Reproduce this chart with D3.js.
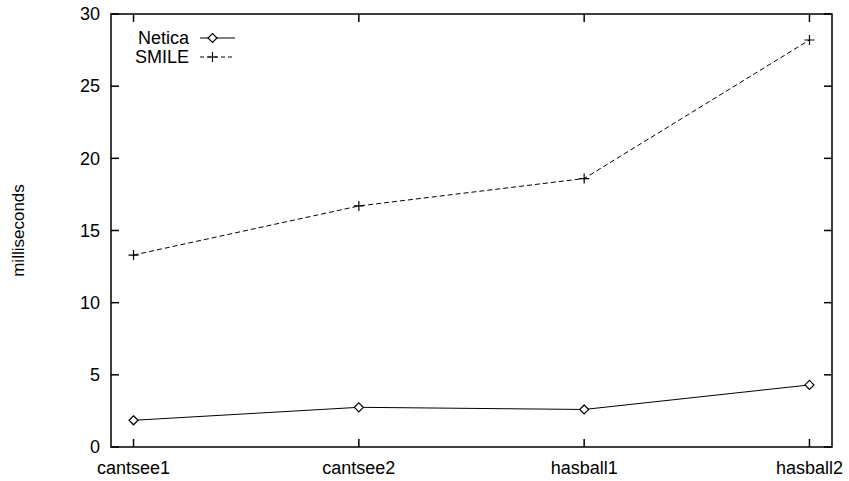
<!DOCTYPE html>
<html><head><meta charset="utf-8">
<script src="https://cdn.jsdelivr.net/npm/d3@7"></script>
<style>body{margin:0;background:#fff}svg{display:block}text{font-family:"Liberation Sans",Arial,sans-serif;font-size:18px;fill:#000}</style>
</head><body>
<svg id="c" width="849" height="481"></svg>
<script>
const categories = ["cantsee1","cantsee2","hasball1","hasball2"];
const netica = [1.85, 2.75, 2.6, 4.3];
const smile = [13.3, 16.7, 18.6, 28.2];
const yTicks = [0,5,10,15,20,25,30];
const yLabel = "milliseconds";

const svg = d3.select("#c");
const L=111, R=832, T=14, B=447;
const x = d3.scaleLinear().domain([-0.1, categories.length-1+0.1]).range([L,R]);
const y = d3.scaleLinear().domain([0,30]).range([B,T]);
const tk = 8;

svg.append("rect").attr("x",L).attr("y",T).attr("width",R-L).attr("height",B-T)
  .attr("fill","none").attr("stroke","#000").attr("stroke-width",1.5);

yTicks.forEach(v=>{
  const yy = y(v);
  svg.append("line").attr("x1",L).attr("x2",L+tk).attr("y1",yy).attr("y2",yy).attr("stroke","#000").attr("stroke-width",1.5);
  svg.append("line").attr("x1",R).attr("x2",R-tk).attr("y1",yy).attr("y2",yy).attr("stroke","#000").attr("stroke-width",1.5);
  svg.append("text").attr("x",L-11).attr("y",yy).attr("dy","0.35em").attr("text-anchor","end").text(v);
});
categories.forEach((c,i)=>{
  const xx = x(i);
  svg.append("line").attr("x1",xx).attr("x2",xx).attr("y1",B).attr("y2",B-tk).attr("stroke","#000").attr("stroke-width",1.5);
  svg.append("line").attr("x1",xx).attr("x2",xx).attr("y1",T).attr("y2",T+tk).attr("stroke","#000").attr("stroke-width",1.5);
  svg.append("text").attr("x",xx).attr("y",B+27).attr("text-anchor","middle").text(c);
});
svg.append("text").attr("transform",`translate(24,${(T+B)/2}) rotate(-90)`).attr("text-anchor","middle").style("font-size","17px").text(yLabel);

const line = d3.line().x((d,i)=>x(i)).y(d=>y(d));
const diamond = (g,cx,cy)=>g.append("path").attr("d",`M${cx},${cy-4.5}L${cx+4.5},${cy}L${cx},${cy+4.5}L${cx-4.5},${cy}Z`).attr("fill","#fff").attr("stroke","#000").attr("stroke-width",1.2);
const plus = (g,cx,cy)=>g.append("path").attr("d",`M${cx-5},${cy}H${cx+5}M${cx},${cy-5}V${cy+5}`).attr("stroke","#000").attr("stroke-width",1.2);

svg.append("path").datum(netica).attr("d",line).attr("fill","none").attr("stroke","#000").attr("stroke-width",1);
svg.append("path").datum(smile).attr("d",line).attr("fill","none").attr("stroke","#000").attr("stroke-width",1).attr("stroke-dasharray","5,3");
const gN = svg.append("g"), gS = svg.append("g");
netica.forEach((v,i)=>diamond(gN,x(i),y(v)));
smile.forEach((v,i)=>plus(gS,x(i),y(v)));

const lg = svg.append("g");
lg.append("text").attr("x",189).attr("y",38).attr("dy","0.35em").attr("text-anchor","end").text("Netica");
lg.append("line").attr("x1",200).attr("x2",235).attr("y1",38).attr("y2",38).attr("stroke","#000");
diamond(lg,212.5,38);
lg.append("text").attr("x",189).attr("y",57).attr("dy","0.35em").attr("text-anchor","end").text("SMILE");
lg.append("line").attr("x1",200).attr("x2",235).attr("y1",57).attr("y2",57).attr("stroke","#000").attr("stroke-dasharray","4,3");
plus(lg,212.5,57);
</script>
</body></html>
